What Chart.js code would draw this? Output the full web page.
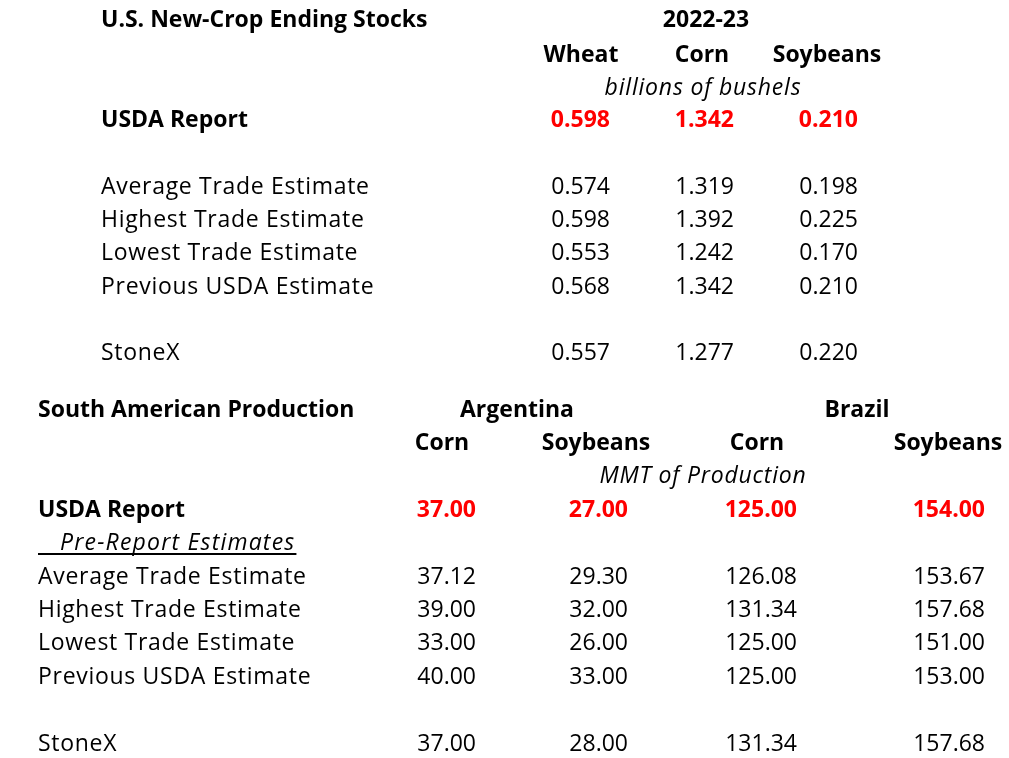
<!DOCTYPE html>
<html>
<head>
<meta charset="utf-8">
<script src="https://cdn.jsdelivr.net/npm/chart.js@4"></script>
<style>
  html, body { margin: 0; padding: 0; background: #fff; }
  #table-chart { display: block; }
</style>
</head>
<body>
<canvas id="table-chart" width="1009" height="758"></canvas>
<script>
// data
const rowLabels = ['USDA Report', 'Average Trade Estimate', 'Highest Trade Estimate',
    'Lowest Trade Estimate', 'Previous USDA Estimate', 'StoneX'];
const usCrops = ['Wheat', 'Corn', 'Soybeans'];
const wheatStocks = [0.598, 0.574, 0.598, 0.553, 0.568, 0.557];
const cornStocks = [1.342, 1.319, 1.392, 1.242, 1.342, 1.277];
const soyStocks = [0.210, 0.198, 0.225, 0.170, 0.210, 0.220];

const saCountries = ['Argentina', 'Brazil'];
const saCrops = ['Corn', 'Soybeans', 'Corn', 'Soybeans'];
const argCorn = [37.00, 37.12, 39.00, 33.00, 40.00, 37.00];
const argSoy = [27.00, 29.30, 32.00, 26.00, 33.00, 28.00];
const brzCorn = [125.00, 126.08, 131.34, 125.00, 125.00, 131.34];
const brzSoy = [154.00, 153.67, 157.68, 151.00, 153.00, 157.68];

// layout (pixel units of the hidden linear scales)
const FONT = '"Open Sans", "Noto Sans", sans-serif';
const RED = '#ff0000';
const topLeft = 101, bottomLeft = 38;
const topRowY = [127, 194, 227, 260, 294, 360];
const bottomRowY = [517, 584, 617, 650, 684, 751];
const topColRight = [610, 734, 858];
const topColMid = [581, 702, 827];
const bottomColRight = [476, 628, 797, 985];
const bottomColMid = [442, 596, 757, 948];
const countryMid = [517, 857];

function textSet(texts, xs, ys, opts) {
    return Object.assign({
        data: texts.map((t, i) => ({ x: xs[i], y: ys[i] })),
        texts: texts,
        pointRadius: 0,
        align: 'left',
        font: '23px ' + FONT,
        color: '#000',
        spacing: '0px'
    }, opts);
}

const bold = 'bold 23px ' + FONT;
const italic = 'italic 23px ' + FONT;
const same = (v, n) => Array(n).fill(v);

function valueColumns(columns, xs, rowYs, digits) {
    return columns.map((col, c) => [
        textSet([col[0].toFixed(digits)], [xs[c]], [rowYs[0]], { align: 'right', font: bold, color: RED }),
        textSet(col.slice(1).map(v => v.toFixed(digits)), same(xs[c], 5), rowYs.slice(1), { align: 'right' })
    ]).flat();
}

const datasets = [
    // top table
    textSet(['U.S. New-Crop Ending Stocks'], [topLeft], [27], { font: bold }),
    textSet(['2022-23'], [706], [27], { font: bold, align: 'center' }),
    textSet(usCrops, topColMid, same(62, 3), { font: bold, align: 'center' }),
    textSet(['billions of bushels'], [703], [95], { font: italic, align: 'center', spacing: '0.8px' }),
    textSet([rowLabels[0]], [topLeft], [topRowY[0]], { font: bold }),
    textSet(rowLabels.slice(1), same(topLeft, 5), topRowY.slice(1), { spacing: '0.7px' }),
    ...valueColumns([wheatStocks, cornStocks, soyStocks], topColRight, topRowY, 3),

    // bottom table
    textSet(['South American Production'], [bottomLeft], [417], { font: bold }),
    textSet(saCountries, countryMid, same(417, 2), { font: bold, align: 'center' }),
    textSet(saCrops, bottomColMid, same(450, 4), { font: bold, align: 'center' }),
    textSet(['MMT of Production'], [703], [483], { font: italic, align: 'center', spacing: '0.8px' }),
    textSet([rowLabels[0]], [bottomLeft], [bottomRowY[0]], { font: bold }),
    textSet(['Pre-Report Estimates'], [60], [550], { font: italic, spacing: '1.2px', underlineFrom: bottomLeft }),
    textSet(rowLabels.slice(1), same(bottomLeft, 5), bottomRowY.slice(1), { spacing: '0.7px' }),
    ...valueColumns([argCorn, argSoy, brzCorn, brzSoy], bottomColRight, bottomRowY, 2)
];

const tableText = {
    id: 'tableText',
    afterDatasetsDraw(chart) {
        const ctx = chart.ctx;
        ctx.save();
        ctx.textBaseline = 'alphabetic';
        chart.data.datasets.forEach((ds, i) => {
            const meta = chart.getDatasetMeta(i);
            ctx.font = ds.font;
            ctx.fillStyle = ds.color;
            ctx.textAlign = ds.align;
            ctx.letterSpacing = ds.spacing;
            meta.data.forEach((pt, j) => {
                ctx.fillText(ds.texts[j], pt.x, pt.y);
                if (ds.underlineFrom !== undefined) {
                    const start = chart.scales.x.getPixelForValue(ds.underlineFrom);
                    const end = pt.x + ctx.measureText(ds.texts[j]).width + 1;
                    ctx.fillRect(start, pt.y + 3, end - start, 2);
                }
            });
        });
        ctx.restore();
    }
};

new Chart(document.getElementById('table-chart'), {
    type: 'scatter',
    data: { datasets: datasets },
    options: {
        responsive: false,
        animation: false,
        events: [],
        layout: { padding: 0 },
        plugins: { legend: { display: false }, tooltip: { enabled: false } },
        scales: {
            x: { type: 'linear', min: 0, max: 1009, display: false },
            y: { type: 'linear', min: 0, max: 758, reverse: true, display: false }
        }
    },
    plugins: [tableText]
});
</script>
</body>
</html>
